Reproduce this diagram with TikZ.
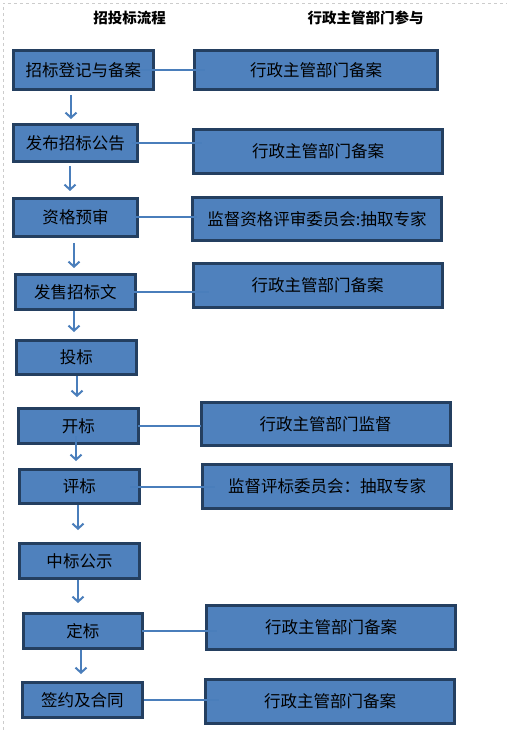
\documentclass[tikz,border=0pt]{standalone}
\usepackage{fontspec}
\newfontfamily\cjk{Noto Sans CJK SC}
\usetikzlibrary{arrows.meta,positioning}
\definecolor{boxfill}{HTML}{4F81BD}
\definecolor{boxline}{HTML}{243F60}
\definecolor{linkblue}{HTML}{4A7EBB}

\begin{document}
\begin{tikzpicture}
\tikzstyle{stage}=[rectangle, node distance = 72pt,
line width=3pt, draw=boxline, fill=boxfill, text=black,
inner sep=0pt, minimum width=120pt, minimum height=35pt,
font=\cjk\fontsize{16.5}{18}\selectfont]
\tikzstyle{office}=[stage, node distance = 240pt,
minimum width=249pt, minimum height=44pt]
\tikzstyle{flow}=[draw=linkblue, line width=2pt, -{Straight Barb[length=5pt,width=11pt]}]
\tikzstyle{link}=[draw=linkblue, line width=2pt]
\tikzstyle{title}=[font=\cjk\bfseries\fontsize{14.5}{16}\selectfont]

\useasboundingbox (-83.5pt,-660pt) rectangle (423.5pt,70pt);
\draw[gray!40, dashed] (-80.5pt,-660pt) -- (-80.5pt,67pt) -- (423.5pt,67pt);

\node[title] at (46pt,52pt) (t1) {招投标流程};
\node[title] at (282pt,52pt) (t2) {行政主管部门参与};

\node[stage, minimum width=140pt, minimum height=39pt] at (0,0) (p1) {招标登记与备案};
\node[stage, below of =p1, xshift=-8pt, yshift=-1pt, minimum width=124pt, minimum height=37pt] (p2) {发布招标公告};
\node[stage, below of =p2, yshift=-2.5pt, minimum width=124pt, minimum height=38pt] (p3) {资格预审};
\node[stage, below of =p3, yshift=-2.5pt] (p4) {发售招标文};
\node[stage, below of =p4, xshift=1pt, yshift=6.5pt, minimum height=34pt] (p5) {投标};
\node[stage, below of =p5, xshift=2pt, yshift=3.5pt] (p6) {开标};
\node[stage, below of =p6, xshift=1pt, yshift=11.5pt, minimum height=34pt] (p7) {评标};
\node[stage, below of =p7, yshift=-2.5pt] (p8) {中标公示};
\node[stage, below of =p8, xshift=3.5pt, yshift=2pt, minimum width=119pt] (p9) {定标};
\node[stage, below of =p9, xshift=-0.5pt, yshift=3pt] (p10) {签约及合同};

\node[office, right of =p1, xshift=-7.5pt, minimum width=243pt, minimum height=39pt] (a1) {行政主管部门备案};
\node[office, right of =p2, xshift=2.5pt, yshift=-8.5pt] (a2) {行政主管部门备案};
\node[office, right of =p3, xshift=1.5pt, yshift=-1.5pt, minimum height=43pt] (a3) {监督资格评审委员会:抽取专家};
\node[office, right of =p4, xshift=2pt, yshift=6.5pt] (a4) {行政主管部门备案};
\node[office, right of =p6, xshift=7pt, yshift=2pt, minimum height=43pt] (a6) {行政主管部门监督};
\node[office, right of =p7, xshift=7.5pt] (a7) {监督评标委员会：抽取专家};
\node[office, right of =p9, xshift=8pt, yshift=3.5pt] (a9) {行政主管部门备案};
\node[office, right of =p10, xshift=7.5pt, yshift=-1.5pt] (a10) {行政主管部门备案};

\draw[link] ([xshift=-15pt]p1.east) -- ([xshift=12pt]p1.east -| a1.west);
\draw[link] ([xshift=-7pt]p2.east) -- ([xshift=10pt]p2.east -| a2.west);
\draw[link] ([xshift=-4pt]p3.east) -- ([xshift=6pt]p3.east -| a3.west);
\draw[link] ([xshift=-3pt]p4.east) -- ([xshift=17pt]p4.east -| a4.west);
\draw[link] ([xshift=-2pt]p6.east) -- ([xshift=1pt]p6.east -| a6.west);
\draw[link] ([xshift=-11pt]p7.east) -- ([xshift=14pt]p7.east -| a7.west);
\draw[link] ([xshift=-2pt]p9.east) -- ([xshift=12pt]p9.east -| a9.west);
\draw[link] (p10.east) -- ([xshift=15pt]p10.east -| a10.west);

\draw[flow, shorten <=4pt, shorten >=4pt] ([xshift=-12.5pt]p1.south) -- ([xshift=-4.5pt]p2.north);
\draw[flow, shorten <=3pt, shorten >=6pt] ([xshift=-5.5pt]p2.south) -- ([xshift=-5.5pt]p3.north);
\draw[flow, shorten <=5pt, shorten >=5pt] ([xshift=-1.5pt]p3.south) -- ([xshift=-1.5pt]p4.north);
\draw[flow, shorten >=7pt] ([xshift=-1.5pt]p4.south) -- ([xshift=-2.5pt]p5.north);
\draw[flow, shorten >=10pt] ([xshift=0.5pt]p5.south) -- ([xshift=-1.5pt]p6.north);
\draw[flow, shorten <=-9pt, shorten >=7pt] ([xshift=-2.5pt]p6.south) -- ([xshift=-3.5pt]p7.north);
\draw[flow, shorten >=12pt] ([xshift=-1.5pt]p7.south) -- ([xshift=-1.5pt]p8.north);
\draw[flow, shorten >=9pt] ([xshift=-1.5pt]p8.south) -- ([xshift=-5pt]p9.north);
\draw[flow, shorten >=7pt] ([xshift=-2pt]p9.south) -- ([xshift=-1.5pt]p10.north);

\end{tikzpicture}
\end{document}
